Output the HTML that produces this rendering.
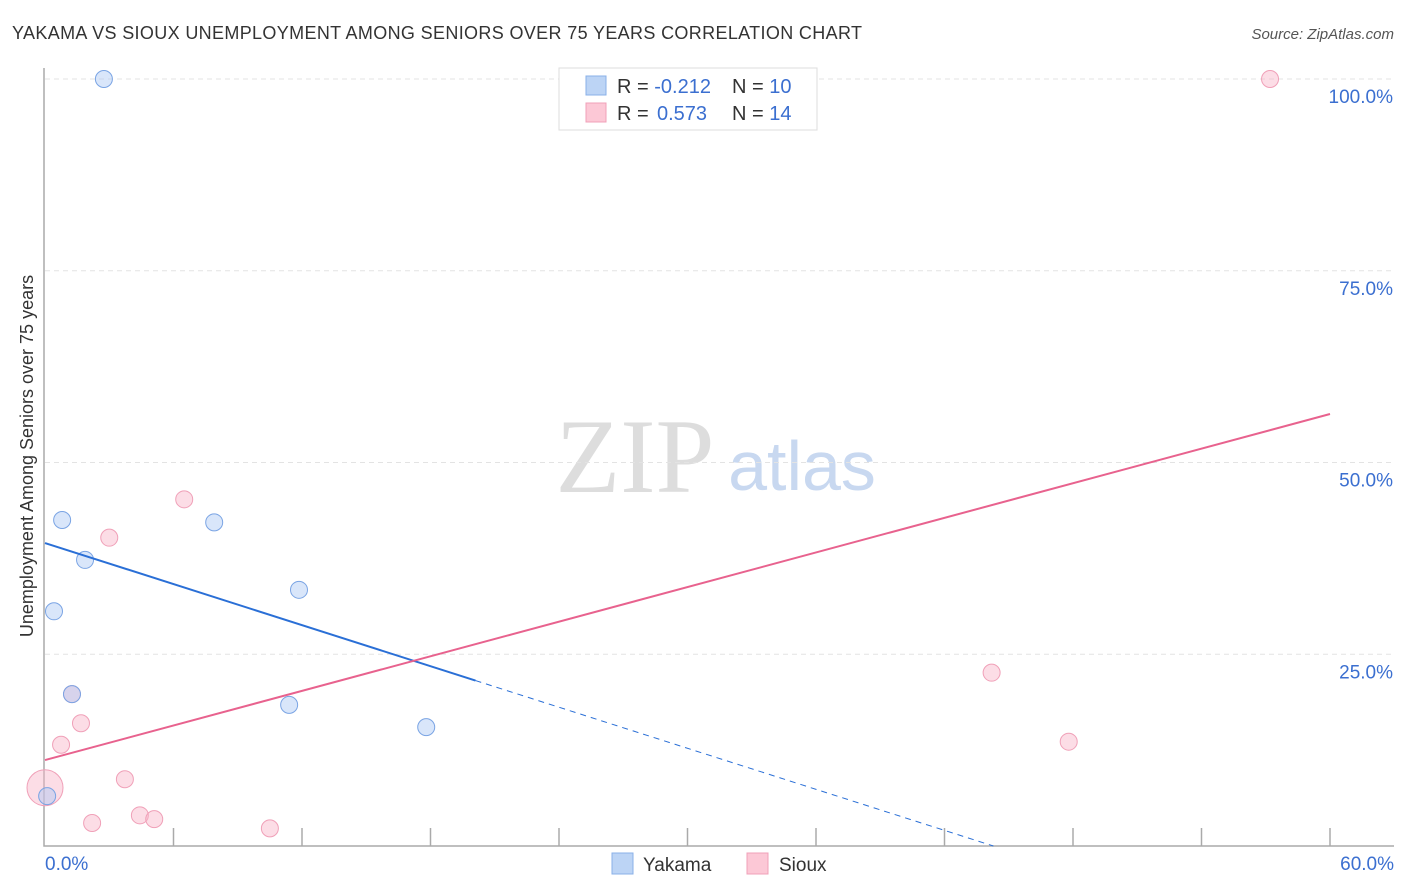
<!DOCTYPE html>
<html><head><meta charset="utf-8"><style>
body{margin:0;background:#fff;font-family:"Liberation Sans",sans-serif;}
svg{display:block}
</style></head><body>
<svg id="c" width="1406" height="892">
<text x="12" y="39" font-size="18" fill="#333" textLength="850">YAKAMA VS SIOUX UNEMPLOYMENT AMONG SENIORS OVER 75 YEARS CORRELATION CHART</text>
<text x="1394" y="39" font-size="15" fill="#555" font-style="italic" text-anchor="end">Source: ZipAtlas.com</text>
<text x="33" y="456" font-size="18" fill="#333" text-anchor="middle" transform="rotate(-90 33 456)">Unemployment Among Seniors over 75 years</text>
<text x="635" y="492" font-size="106" fill="#ddd" font-family="Liberation Serif,serif" text-anchor="middle">ZIP</text>
<text x="802" y="490" font-size="70" fill="#c8d8f0" text-anchor="middle">atlas</text>
<g id="grid"></g><g id="marks"></g>
<g>
<rect x="559" y="68" width="258" height="62" fill="#fff" stroke="#ddd"/>
<rect x="586" y="76" width="20" height="19" fill="#bcd4f5" stroke="#8ab0e8"/>
<rect x="586" y="103" width="20" height="19" fill="#fcc8d6" stroke="#f0a0b8"/>
<text x="617" y="93" font-size="20" fill="#333">R = <tspan fill="#3b6fd0">-0.212</tspan><tspan x="732">N = </tspan><tspan fill="#3b6fd0">10</tspan></text>
<text x="617" y="120" font-size="20" fill="#333">R = <tspan x="657" fill="#3b6fd0">0.573</tspan><tspan x="732">N = </tspan><tspan fill="#3b6fd0">14</tspan></text>
</g>
<g>
<rect x="612" y="853" width="21" height="21" fill="#bcd4f5" stroke="#8ab0e8"/>
<text x="643" y="871" font-size="19" fill="#333">Yakama</text>
<rect x="747" y="853" width="21" height="21" fill="#fcc8d6" stroke="#f0a0b8"/>
<text x="779" y="871" font-size="19" fill="#333">Sioux</text>
</g>
</svg>
<script>
const yTicks=[25,50,75,100];
const yTickLabels=["25.0%","50.0%","75.0%","100.0%"];
const xTicks=[0,6,12,18,24,30,36,42,48,54,60];
const yakX=[2.75,0.8,1.87,0.42,1.26,0.1,7.9,11.86,11.4,17.8];
const yakY=[100,42.5,37.3,30.6,19.8,6.5,42.2,33.4,18.4,15.5];
const siouxX=[57.2,6.5,3.0,1.26,1.68,0.75,0,3.73,2.2,4.43,5.1,10.5,44.2,47.8];
const siouxY=[100,45.2,40.2,19.8,16.0,13.2,7.6,8.7,3.0,4.0,3.5,2.3,22.6,13.6];
const siouxR=[8.5,8.5,8.5,8.5,8.5,8.5,18,8.5,8.5,8.5,8.5,8.5,8.5,8.5];
const yakLine=[39.5,-0.892];
const siouxLine=[11.2,0.752];
const X=v=>45+v*(1330-45)/60, Y=v=>846-v*(846-79)/100;
const ns="http://www.w3.org/2000/svg";
function mk(t,a,p){const e=document.createElementNS(ns,t);for(const k in a)e.setAttribute(k,a[k]);p.appendChild(e);return e;}
const g=document.getElementById('grid'),m=document.getElementById('marks');
yTicks.forEach((t,i)=>{
 const l=mk('line',{x1:45,x2:1394,y1:Y(t),y2:Y(t),stroke:'#e3e3e3','stroke-dasharray':'5,4'},g);
 
 
 const tx=mk('text',{x:1393,y:Y(t)+24,'font-size':19,fill:'#3b6fd0','text-anchor':'end'},g);tx.textContent=yTickLabels[i];
 
 
});
const ax=mk('path',{d:'M44 68V846H1394',fill:'none',stroke:'#aaa','stroke-width':1.5},g);


xTicks.forEach(t=>{if(t===0)return;const l=mk('line',{x1:X(t),x2:X(t),y1:828,y2:846,stroke:'#aaa','stroke-width':1.5},g);
 
 });
[[0,"0.0%",'start',45],[60,"60.0%",'end',1394]].forEach(a=>{const t=mk('text',{x:a[3],y:870,'font-size':19,fill:'#3b6fd0','text-anchor':a[2]},g);t.textContent=a[1];
 
 });
siouxX.forEach((x,i)=>{const c=mk('circle',{cx:X(x),cy:Y(siouxY[i]),r:siouxR[i],fill:'rgba(248,180,200,0.45)',stroke:'#f0a0b8'},m);
 
 });
yakX.forEach((x,i)=>{const c=mk('circle',{cx:X(x),cy:Y(yakY[i]),r:8.5,fill:'rgba(170,200,245,0.45)',stroke:'#7aa4e4'},m);
 
 });
const yl=v=>yakLine[0]+yakLine[1]*v, sl=v=>siouxLine[0]+siouxLine[1]*v;
let l1=mk('line',{x1:X(0),y1:Y(yl(0)),x2:X(20.1),y2:Y(yl(20.1)),stroke:'#2a6fd6','stroke-width':2},m);


const xe=-yakLine[0]/yakLine[1];
let l2=mk('line',{x1:X(20.1),y1:Y(yl(20.1)),x2:X(xe),y2:Y(0),stroke:'#2a6fd6','stroke-width':1,'stroke-dasharray':'6,5'},m);


let l3=mk('line',{x1:X(0),y1:Y(sl(0)),x2:X(60),y2:Y(sl(60)),stroke:'#e8628e','stroke-width':2},m);


</script>
</body></html>
